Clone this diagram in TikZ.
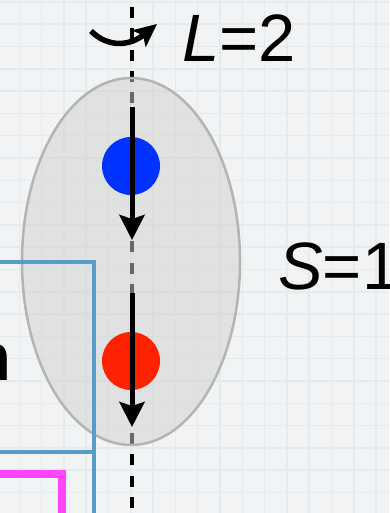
\documentclass[tikz,border=0pt]{standalone}
\usepackage{fontspec}
\setmainfont{Liberation Sans}
\usetikzlibrary{arrows.meta, shapes.geometric}

\definecolor{paper}{HTML}{F2F3F4}
\definecolor{gridcol}{HTML}{E5EAEC}
\definecolor{shell}{HTML}{B4B4B4}
\definecolor{shellfill}{HTML}{D0D0D0}
\definecolor{spinblue}{HTML}{0033FF}
\definecolor{spinred}{HTML}{FF2200}
\definecolor{boxblue}{HTML}{5B9BC8}
\definecolor{boxpink}{HTML}{FF44FF}

\begin{document}
\begin{tikzpicture}[
  x=1pt, y=-1pt, font=\fontsize{67}{70}\selectfont,
  axis/.style = {line width=4.5pt, dash pattern=on 11pt off 10.3pt},
  spin/.style = {line width=5pt, -{Stealth[length=25pt,width=25pt,inset=4pt]}},
  turn/.style = {line width=5.5pt, -{Stealth[length=23pt,width=21pt,inset=5pt]}},
  ball/.style = {circle, minimum size=58pt, inner sep=0pt},
  label/.style = {anchor=base west, inner sep=0pt}
  ]
  \clip (0,0) rectangle (389,513);
  \fill[paper] (0,0) rectangle (389,513);
  % graph paper
  \foreach \k in {0,...,16}
    \draw[gridcol, line width=1.5pt] (19.3+22.3*\k,0) -- (19.3+22.3*\k,513);
  \foreach \k in {0,...,22}
    \draw[gridcol, line width=1.5pt] (0,1.9+22.3*\k) -- (389,1.9+22.3*\k);

  \coordinate (top) at (132,-14.3);
  \coordinate (bot) at (132,520);
  \draw[axis] (top) -- (bot);

  \node[ellipse, draw=shell, line width=2.5pt, fill=shellfill, fill opacity=0.5,
        minimum width=218pt, minimum height=367pt, inner sep=0pt] (@pair) at (131,261.5) {};

  % neighbouring boxes
  \draw[boxblue, line width=4pt] (-5,262) -| (94,452) -- (-5,452);
  \draw[boxblue, line width=4pt] (94,452) -- (94,520);
  \draw[boxpink, line width=8pt] (-5,474) -| (62,520);
  \node[anchor=base east, inner sep=0pt, font=\fontsize{67}{70}\selectfont\bfseries] (@n) at (12,380) {n};

  \node[ball, fill=spinblue] (@1) at (131,166) {};
  \node[ball, fill=spinred] (@2) at (131,361) {};
  \coordinate (a1) at (132,107);
  \coordinate (b1) at (132,240);
  \coordinate (a2) at (132,293);
  \coordinate (b2) at (132,427);
  \draw[spin] (a1) -- (b1);
  \draw[spin] (a2) -- (b2);

  \coordinate (r0) at (91,31);
  \coordinate (r1) at (157,24);
  \draw[turn] (r0) .. controls (108,48) and (130,46) .. (r1);

  \node[label] (@L) at (182,62) {\itshape L\upshape=2};
  \node[label] (@S) at (278,289) {\itshape S\upshape=1};
\end{tikzpicture}
\end{document}
